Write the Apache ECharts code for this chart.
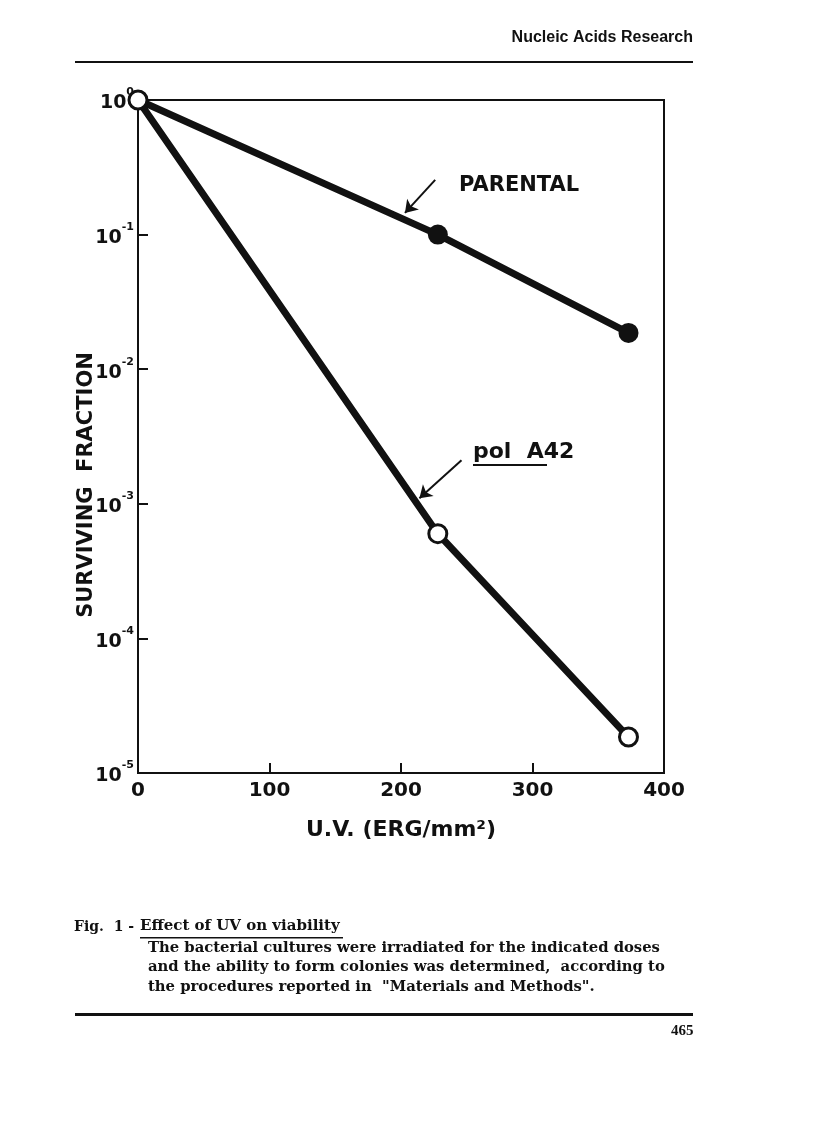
<!DOCTYPE html>
<html>
<head>
<meta charset="utf-8">
<script src="https://cdn.jsdelivr.net/npm/echarts@6/dist/echarts.min.js"></script>
<style>
  html, body { margin: 0; padding: 0; background: #fff; }
  #main { width: 816px; height: 1140px; }
</style>
</head>
<body>
<div id="main"></div>
<script>
// dose (erg/mm2) and surviving fraction
var doses = [0, 228, 373];
var parental = [1, 0.1, 0.0186];
var polA42 = [1, 6.0e-4, 1.85e-5];

// arrows pointing at the curves (data coords)
var parentalArrow = [[226, 0.255], [203, 0.145]];
var polArrow = [[246, 0.00211], [214, 0.0011]];

var chart = echarts.init(document.getElementById('main'));

function pairs(xs, ys) {
    var out = [];
    for (var i = 0; i < xs.length; i++) out.push([xs[i], ys[i]]);
    return out;
}

var black = '#111';
var serif = '"DejaVu Serif", "Liberation Serif", serif';
var sans = '"DejaVu Sans", "Liberation Sans", sans-serif';

function arrow(pts) {
    return {
        silent: true,
        symbol: ['none', 'arrow'],
        symbolSize: 12,
        label: { show: false },
        lineStyle: { color: black, width: 2, type: 'solid' },
        data: [[{ coord: pts[0] }, { coord: pts[1] }]]
    };
}

var option = {
    backgroundColor: '#fff',
    animation: false,
    grid: {
        left: 138, top: 100, width: 526, height: 673,
        show: true, borderColor: black, borderWidth: 2
    },
    xAxis: {
        type: 'value',
        min: 0, max: 400, interval: 100,
        splitLine: { show: false },
        axisLine: { lineStyle: { color: black, width: 2 } },
        axisTick: { inside: true, length: 10, lineStyle: { color: black, width: 2 } },
        axisLabel: {
            color: black, fontFamily: sans, fontWeight: 'bold', fontSize: 20, margin: 8
        },
        name: 'U.V. (ERG/mm\u00B2)',
        nameLocation: 'middle',
        nameGap: 46,
        nameTextStyle: { color: black, fontFamily: sans, fontWeight: 'bold', fontSize: 22 }
    },
    yAxis: {
        type: 'log',
        logBase: 10,
        min: 1e-5, max: 1,
        splitLine: { show: false },
        axisLine: { lineStyle: { color: black, width: 2 } },
        axisTick: { inside: true, length: 10, lineStyle: { color: black, width: 2 } },
        axisLabel: {
            margin: 4,
            formatter: function (v) {
                var e = Math.round(Math.log10(v));
                return '{b|10}{s|' + (e === 0 ? '0' : e) + '}';
            },
            rich: {
                b: { color: black, fontFamily: sans, fontWeight: 'bold', fontSize: 19, lineHeight: 26, verticalAlign: 'bottom' },
                s: { color: black, fontFamily: sans, fontWeight: 'bold', fontSize: 11, lineHeight: 26, verticalAlign: 'top' }
            }
        }
    },
    series: [
        {
            name: 'PARENTAL',
            type: 'line',
            data: pairs(doses, parental),
            symbol: 'circle',
            symbolSize: 20,
            lineStyle: { color: black, width: 7 },
            itemStyle: { color: black },
            markLine: arrow(parentalArrow),
            z: 3
        },
        {
            name: 'pol A42',
            type: 'line',
            data: pairs(doses, polA42),
            symbol: 'circle',
            symbolSize: 18,
            lineStyle: { color: black, width: 7 },
            itemStyle: { color: '#fff', borderColor: black, borderWidth: 3 },
            markLine: arrow(polArrow),
            z: 4
        }
    ],
    graphic: [
        // page header
        {
            type: 'text', right: 123, top: 30,
            style: { text: 'Nucleic Acids Research', fill: black, font: 'bold 16px "Liberation Sans", sans-serif' }
        },
        {
            type: 'rect', shape: { x: 75, y: 61, width: 618, height: 2 },
            style: { fill: black }
        },
        // y axis title
        {
            type: 'text', x: 87, y: 485, rotation: Math.PI / 2,
            style: {
                text: 'SURVIVING  FRACTION', fill: black, align: 'center', verticalAlign: 'middle',
                font: 'bold 21px "DejaVu Sans", sans-serif'
            }
        },
        // curve labels
        {
            type: 'text', x: 459, y: 175,
            style: { text: 'PARENTAL', fill: black, font: 'bold 21px "DejaVu Sans", sans-serif' }
        },
        {
            type: 'text', x: 473, y: 441,
            style: { text: 'pol  A42', fill: black, font: 'bold 22px "DejaVu Sans", sans-serif' }
        },
        {
            type: 'rect', shape: { x: 473, y: 464, width: 74, height: 2 },
            style: { fill: black }
        },
        // caption
        {
            type: 'text', x: 74, y: 920,
            style: { text: 'Fig.  1 -', fill: black, font: 'bold 14px ' + serif }
        },
        {
            type: 'text', x: 140, y: 919,
            style: { text: 'Effect of UV on viability', fill: black, font: 'bold 15px ' + serif }
        },
        {
            type: 'rect', shape: { x: 140, y: 937, width: 203, height: 1.5 },
            style: { fill: black }
        },
        {
            type: 'text', x: 148, y: 938,
            style: {
                text: 'The bacterial cultures were irradiated for the indicated doses\nand the ability to form colonies was determined,  according to\nthe procedures reported in  "Materials and Methods".',
                fill: black, font: 'bold 14.8px ' + serif, lineHeight: 19.5
            }
        },
        {
            type: 'rect', shape: { x: 75, y: 1013, width: 618, height: 3 },
            style: { fill: black }
        },
        {
            type: 'text', x: 671, y: 1024,
            style: { text: '465', fill: black, font: 'bold 15px "Liberation Serif", serif' }
        }
    ]
};

chart.setOption(option);
</script>
</body>
</html>
